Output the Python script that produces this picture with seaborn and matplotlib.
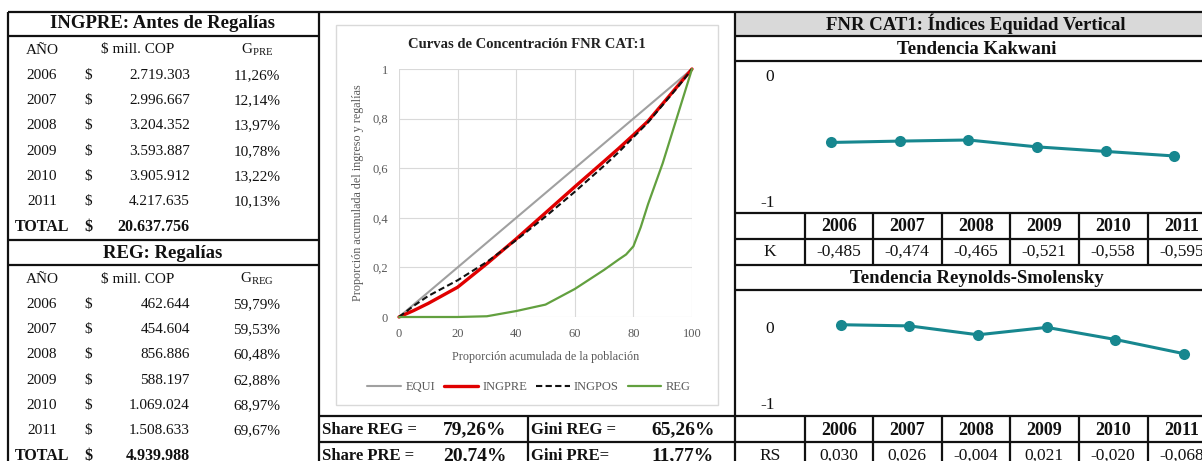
import numpy as np
import pandas as pd
import matplotlib
matplotlib.use("Agg")
import matplotlib.pyplot as plt
import seaborn as sns
from matplotlib.patches import Rectangle

# ---------------- data ----------------
years = [2006, 2007, 2008, 2009, 2010, 2011]
ingpre_cop = [2719303, 2996667, 3204352, 3593887, 3905912, 4217635]
ingpre_total = 20637756
g_pre = [11.26, 12.14, 13.97, 10.78, 13.22, 10.13]
reg_cop = [462644, 454604, 856886, 588197, 1069024, 1508633]
reg_total = 4939988
g_reg = [59.79, 59.53, 60.48, 62.88, 68.97, 69.67]

share_reg = 79.26
share_pre = 20.74
gini_reg = 65.26
gini_pre = 11.77

kakwani = [-0.485, -0.474, -0.465, -0.521, -0.558, -0.595]
reynolds = [0.030, 0.026, -0.004, 0.021, -0.020, -0.068]

pob = [0, 5, 10, 20, 30, 40, 50, 60, 70, 75, 77.5, 80, 82.5, 85, 90, 95, 100]
equi_x = [0, 100]
equi_y = [0, 1]
ingpre_curve = [0, 0.026, 0.055, 0.120, 0.215, 0.315, 0.420, 0.525, 0.628, 0.680, 0.707, 0.734, 0.762, 0.790, 0.860, 0.930, 1.0]
ingpos_curve = [0, 0.045, 0.085, 0.148, 0.222, 0.310, 0.405, 0.505, 0.610, 0.665, 0.695, 0.725, 0.755, 0.785, 0.855, 0.925, 1.0]
reg_curve = [0, 0.0, 0.0, 0.0, 0.003, 0.024, 0.050, 0.113, 0.190, 0.232, 0.252, 0.285, 0.362, 0.455, 0.620, 0.810, 1.0]

# ---------------- style ----------------
sns.set_theme(style="white")
plt.rcParams["font.family"] = ["Liberation Serif", "DejaVu Serif"]

W, H = 1202, 461
fig = plt.figure(figsize=(W / 100, H / 100), dpi=100)
fig.patch.set_facecolor("white")


def px_axes(x0, y0, x1, y1):
    return [x0 / W, 1 - y1 / H, (x1 - x0) / W, (y1 - y0) / H]


bg = fig.add_axes([0, 0, 1, 1])
bg.set_xlim(0, W)
bg.set_ylim(H, 0)
bg.axis("off")
bg.set_facecolor("none")

LW = 1.6
INK = "#111111"


def hline(y, x0, x1, lw=LW):
    bg.plot([x0, x1], [y, y], color=INK, lw=lw, solid_capstyle="butt")


def vline(x, y0, y1, lw=LW):
    bg.plot([x, x], [y0, y1], color=INK, lw=lw, solid_capstyle="butt")


def fmt_thousands(v):
    return f"{v:,}".replace(",", ".")


def fmt_pct(v):
    return f"{v:.2f}".replace(".", ",") + "%"


def fmt_idx(v):
    return f"{v:.3f}".replace(".", ",")


# ---------------- left tables ----------------
vline(8, 12, H + 2)
vline(319, 12, H + 2)
for y in (12, 36, 240, 265):
    hline(y, 8, 319)

FS_BODY = 11
FS_HEAD = 13.5
ROW = 25.3


def left_block(y_head, title, vals, total, gvals, gsub):
    bg.text(163, y_head, title, ha="center", va="center", fontsize=FS_HEAD,
            fontweight="bold", color=INK)
    y_sub = y_head + 26
    bg.text(42, y_sub, "AÑO", ha="center", va="center", fontsize=FS_BODY, color=INK)
    bg.text(138, y_sub, "$ mill. COP", ha="center", va="center", fontsize=FS_BODY, color=INK)
    bg.text(257, y_sub, r"$\mathregular{G_{%s}}$" % gsub, ha="center", va="center",
            fontsize=FS_BODY, color=INK)
    for i, (yr, v, g) in enumerate(zip(years, vals, gvals)):
        yy = y_sub + ROW * (i + 1)
        bg.text(42, yy, str(yr), ha="center", va="center", fontsize=FS_BODY, color=INK)
        bg.text(88, yy, "$", ha="center", va="center", fontsize=FS_BODY, color=INK)
        bg.text(190, yy, fmt_thousands(v), ha="right", va="center", fontsize=FS_BODY, color=INK)
        bg.text(257, yy, fmt_pct(g), ha="center", va="center", fontsize=FS_BODY, color=INK)
    yy = y_sub + ROW * 7
    bg.text(42, yy, "TOTAL", ha="center", va="center", fontsize=FS_BODY + 0.5,
            fontweight="bold", color=INK)
    bg.text(88, yy, "$", ha="center", va="center", fontsize=FS_BODY + 0.5,
            fontweight="bold", color=INK)
    bg.text(190, yy, fmt_thousands(total), ha="right", va="center", fontsize=FS_BODY + 0.5,
            fontweight="bold", color=INK)


left_block(24, "INGPRE: Antes de Regalías", ingpre_cop, ingpre_total, g_pre, "PRE")
left_block(253, "REG: Regalías", reg_cop, reg_total, g_reg, "REG")

# ---------------- middle section ----------------
hline(12, 319, 735)
hline(416, 319, 735)
hline(442, 319, 735)
vline(528, 416, H + 2)
bg.add_patch(Rectangle((336, 25), 382, 380, facecolor="white", edgecolor="#D9D9D9", lw=1.0))

bg.text(322, 430, "Share REG =", ha="left", va="center", fontsize=12, fontweight="bold", color=INK)
bg.text(475, 430, fmt_pct(share_reg), ha="center", va="center", fontsize=14, fontweight="bold", color=INK)
bg.text(531, 430, "Gini REG =", ha="left", va="center", fontsize=12, fontweight="bold", color=INK)
bg.text(683, 430, fmt_pct(gini_reg), ha="center", va="center", fontsize=14, fontweight="bold", color=INK)
bg.text(322, 456, "Share PRE =", ha="left", va="center", fontsize=12, fontweight="bold", color=INK)
bg.text(475, 456, fmt_pct(share_pre), ha="center", va="center", fontsize=14, fontweight="bold", color=INK)
bg.text(531, 456, "Gini PRE=", ha="left", va="center", fontsize=12, fontweight="bold", color=INK)
bg.text(683, 456, fmt_pct(gini_pre), ha="center", va="center", fontsize=14, fontweight="bold", color=INK)

bg.text(527, 45, "Curvas de Concentración FNR CAT:1", ha="center", va="center",
        fontsize=10.5, fontweight="bold", color="#222222")

ax = fig.add_axes(px_axes(399, 69, 692, 317))
ax.set_facecolor("none")
GRAY_TXT = "#595959"

sns.lineplot(x=equi_x, y=equi_y, ax=ax, color="#A0A0A0", lw=1.5, label="EQUI")
sns.lineplot(x=pob, y=ingpre_curve, ax=ax, color="#E00000", lw=2.4, label="INGPRE")
sns.lineplot(x=pob, y=ingpos_curve, ax=ax, color="#111111", lw=1.5, label="INGPOS",
             linestyle=(0, (3.0, 1.6)))
sns.lineplot(x=pob, y=reg_curve, ax=ax, color="#62A03F", lw=1.6, label="REG")
for ln in ax.get_lines():
    ln.set_clip_on(False)
    ln.set_solid_joinstyle("round")

ax.set_xlim(0, 100)
ax.set_ylim(0, 1)
ax.set_xticks([0, 20, 40, 60, 80, 100])
ax.set_yticks([0, 0.2, 0.4, 0.6, 0.8, 1.0])
ax.set_yticklabels(["0", "0,2", "0,4", "0,6", "0,8", "1"])
ax.grid(True, color="#D9D9D9", lw=0.8)
ax.set_axisbelow(True)
for s in ax.spines.values():
    s.set_visible(False)
ax.tick_params(axis="both", length=0, labelsize=9, colors=GRAY_TXT, pad=8)
ax.set_xlabel("Proporción acumulada de la población", fontsize=8.75, color=GRAY_TXT)
ax.set_ylabel("Proporción acumulada del ingreso y regalías", fontsize=8.75, color=GRAY_TXT)
ax.xaxis.set_label_coords(0.5, (317 - 357) / 248)
ax.xaxis.label.set_va("center")
ax.yaxis.set_label_coords((358 - 399) / 293, 0.5)
ax.yaxis.label.set_va("center")

leg = ax.legend(loc="center", bbox_to_anchor=(529 / W, 1 - 387 / H),
                bbox_transform=fig.transFigure, ncol=4, frameon=False,
                fontsize=9, handlelength=2.7, handletextpad=0.35, columnspacing=0.7)
for t in leg.get_texts():
    t.set_color(GRAY_TXT)

# ---------------- right section ----------------
vline(735, 12, H + 2)
bg.add_patch(Rectangle((735, 12), W - 735, 24, facecolor="#D9D9D9", edgecolor="none"))
for y in (12, 36, 61, 213, 239, 265, 290, 416, 442):
    hline(y, 735, W + 2)
col_edges = [805, 873, 942, 1010, 1079, 1148]
for x in col_edges:
    vline(x, 213, 265)
    vline(x, 416, H + 2)
col_centers = [839, 907, 976, 1044, 1113, 1182]

bg.text(976, 24, "FNR CAT1: Índices Equidad Vertical", ha="center", va="center",
        fontsize=FS_HEAD, fontweight="bold", color=INK)
bg.text(977, 49, "Tendencia Kakwani", ha="center", va="center",
        fontsize=FS_HEAD, fontweight="bold", color=INK)
bg.text(977, 278, "Tendencia Reynolds-Smolensky", ha="center", va="center",
        fontsize=FS_HEAD, fontweight="bold", color=INK)

FS_R = 12.5
bg.text(770, 77, "0", ha="center", va="center", fontsize=FS_R, color=INK)
bg.text(768, 203, "-1", ha="center", va="center", fontsize=FS_R, color=INK)
bg.text(770, 329, "0", ha="center", va="center", fontsize=FS_R, color=INK)
bg.text(768, 405, "-1", ha="center", va="center", fontsize=FS_R, color=INK)

for cx, yr in zip(col_centers, years):
    bg.text(cx, 226, str(yr), ha="center", va="center", fontsize=13, fontweight="bold", color=INK)
    bg.text(cx, 430, str(yr), ha="center", va="center", fontsize=13, fontweight="bold", color=INK)
bg.text(770, 252, "K", ha="center", va="center", fontsize=FS_R, color=INK)
bg.text(770, 456, "RS", ha="center", va="center", fontsize=FS_R, color=INK)
for cx, k, rs in zip(col_centers, kakwani, reynolds):
    bg.text(cx, 252, fmt_idx(k), ha="center", va="center", fontsize=FS_R, color=INK)
    bg.text(cx, 456, fmt_idx(rs), ha="center", va="center", fontsize=FS_R, color=INK)

TEAL = "#17878F"
axk = fig.add_axes(px_axes(735, 61, W, 213))
axk.set_facecolor("none")
sns.lineplot(x=years, y=kakwani, ax=axk, color=TEAL, lw=2.2, marker="o",
             markersize=8, markeredgewidth=0)
axk.set_xlim(2006 - (831 - 735) / 68.7, 2006 + (W - 831) / 68.7)
axk.set_ylim(-(213 - 82.8) / 123, (82.8 - 61) / 123)
axk.axis("off")

axr = fig.add_axes(px_axes(735, 290, W, 416))
axr.set_facecolor("none")
sns.lineplot(x=years, y=reynolds, ax=axr, color=TEAL, lw=2.2, marker="o",
             markersize=8, markeredgewidth=0)
axr.set_xlim(2006 - (840.7 - 735) / 68.7, 2006 + (W - 840.7) / 68.7)
axr.set_ylim(-(416 - 333.6) / 296, (333.6 - 290) / 296)
axr.axis("off")

fig.savefig("out.png", dpi=100, facecolor="white")
